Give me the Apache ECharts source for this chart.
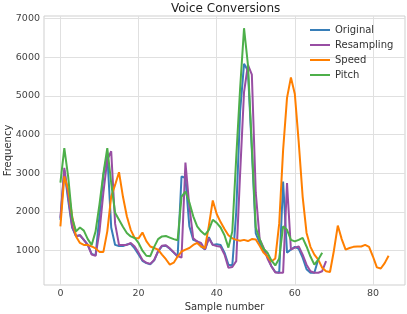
<!DOCTYPE html>
<html>
<head>
<meta charset="utf-8">
<script src="https://cdn.jsdelivr.net/npm/echarts@6/dist/echarts.min.js"></script>
<style>html,body{margin:0;padding:0;background:#fff}#c{width:407px;height:314px}</style>
</head>
<body>
<div id="c"></div>
<script>
const seriesNames = ['Original', 'Resampling', 'Speed', 'Pitch'];
const original = [1800,3080,2300,1600,1380,1400,1280,1150,920,880,1900,2950,3500,1600,1150,1120,1120,1160,1180,1060,900,740,680,650,750,980,1120,1130,1050,950,850,2920,2880,1630,1280,1240,1110,1030,1350,1150,1170,1150,950,640,620,2000,4600,5830,5650,3600,1450,1200,1000,850,600,450,430,2790,950,1030,1100,1050,820,520,430,430,780];
const resampling = [1850,3140,2400,1630,1370,1400,1280,1150,900,870,1500,2500,3350,3570,1700,1150,1150,1150,1200,1110,950,760,690,660,760,990,1130,1140,1060,960,860,820,3280,2150,1320,1240,1200,1030,1320,1150,1120,1100,900,560,580,730,3000,5100,5800,5550,2500,1300,1080,800,600,440,430,430,2750,1030,1080,1110,900,640,470,430,430,470,730];
const speed = [1630,2920,2580,1890,1370,1200,1150,1150,1110,1060,970,970,1500,2400,2700,3030,2400,1890,1540,1330,1320,1470,1250,1110,1070,1030,900,780,640,690,850,980,1030,1070,1150,1200,1110,1070,1650,2300,1950,1740,1560,1400,1320,1280,1260,1280,1250,1300,1290,1130,950,850,720,800,1700,3600,4950,5480,5050,3800,2400,1460,1100,900,770,560,470,450,1000,1650,1300,1030,1070,1100,1110,1110,1150,1100,850,570,540,680,870];
const pitch = [2760,3650,2900,1850,1500,1600,1520,1300,1150,1500,2200,3000,3650,2750,1980,1800,1620,1460,1370,1330,1200,1000,870,860,1100,1300,1370,1380,1340,1300,1270,2400,2530,2250,1890,1630,1500,1410,1540,1800,1720,1600,1400,1080,1500,3400,5200,6750,5800,3700,1600,1300,1050,950,750,620,800,1630,1540,1280,1240,1280,1330,1110,850,640,770,950];
const xTicks = [0, 20, 40, 60, 80];
const yTicks = [1000, 2000, 3000, 4000, 5000, 6000, 7000];
const colors = ['#377eb8', '#984ea3', '#ff7f00', '#4daf4a'];

const allData = [original, resampling, speed, pitch];
const chart = echarts.init(document.getElementById('c'), null, {renderer: 'canvas'});
const font = 'DejaVu Sans';
chart.setOption({
  animation: false,
  backgroundColor: '#ffffff',
  title: {
    text: 'Voice Conversions', left: 171, top: 3, padding: 0,
    textStyle: {fontFamily: font, fontSize: 12, fontWeight: 'normal', color: '#222'}
  },
  legend: {
    data: seriesNames, orient: 'vertical', left: 310, top: 24, padding: 0,
    icon: 'rect', itemWidth: 20, itemHeight: 2, itemGap: 3,
    textStyle: {fontFamily: font, fontSize: 10, color: '#333', lineHeight: 12}
  },
  grid: {left: 44, right: 2, top: 16, bottom: 29, show: true, borderColor: '#cfcfcf', borderWidth: 1, containLabel: false, outerBoundsMode: 'none'},
  xAxis: {
    type: 'value', min: -4.2, max: 88.2,
    name: 'Sample number', nameLocation: 'middle', nameGap: 17, nameMoveOverlap: false,
    nameTextStyle: {fontFamily: font, fontSize: 10, color: '#333'},
    axisLine: {show: false}, axisTick: {show: false, customValues: xTicks},
    axisLabel: {customValues: xTicks, fontFamily: font, fontSize: 9.5, color: '#444', margin: 4, formatter: v => String(v)},
    splitLine: {show: true, lineStyle: {color: '#e0e0e0', width: 1}}
  },
  yAxis: {
    type: 'value', min: 114, max: 7066,
    name: 'Frequency', nameLocation: 'middle', nameGap: 31, nameRotate: 90, nameMoveOverlap: false,
    nameTextStyle: {fontFamily: font, fontSize: 10, color: '#333'},
    axisLine: {show: false}, axisTick: {show: false, customValues: yTicks},
    axisLabel: {customValues: yTicks, fontFamily: font, fontSize: 9.5, color: '#444', margin: 4, formatter: v => String(v)},
    splitLine: {show: true, lineStyle: {color: '#e0e0e0', width: 1}}
  },
  series: seriesNames.map((n, k) => ({
    name: n, type: 'line', showSymbol: false, symbol: 'none',
    data: allData[k].map((v, i) => [i, v]),
    lineStyle: {color: colors[k], width: 2},
    itemStyle: {color: colors[k]},
    z: 2 + k
  }))
});
</script>
</body>
</html>
